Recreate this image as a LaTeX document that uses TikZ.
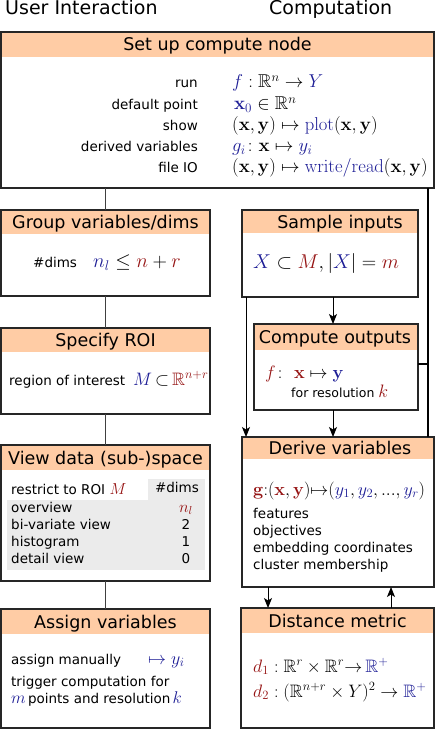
\documentclass[tikz,border=0pt]{standalone}
\usepackage{fix-cm}
\usepackage{amsmath,amssymb}
\usepackage[no-math]{fontspec}
\setmainfont{DejaVu Sans}
\usetikzlibrary{calc,arrows.meta}
\definecolor{hdrc}{RGB}{255,204,165}
\definecolor{mb}{RGB}{30,30,150}
\definecolor{mr}{RGB}{150,20,20}
\definecolor{tg}{RGB}{235,235,235}
\newcommand{\panel}[8]{%
  \node[hdr,minimum width=#4pt,minimum height=#6pt] (#1h) at (#2,#3) {};
  \node[htxt] (#1t) at ($(#1h.center)+(#8,6.5)$) {#7};
  \node[box,minimum width=#4pt,minimum height=#5pt] (#1) at (#2,#3) {};
}
\newcommand{\mysz}[2]{{\fontsize{#1}{#1}\selectfont$#2$}}
\begin{document}
\begin{tikzpicture}[x=1pt,y=-1pt,
  box/.style={draw=black!85,line width=1.2pt,anchor=north west,inner sep=0,outer sep=0},
  hdr/.style={fill=hdrc,anchor=north west,inner sep=0,outer sep=0},
  htxt/.style={anchor=base,inner sep=0,font=\fontsize{17.5}{20}\selectfont},
  ttl/.style={anchor=base west,inner sep=0,font=\fontsize{19}{22}\selectfont},
  lb/.style={inner sep=0,font=\fontsize{13.5}{16}\selectfont},
  sm/.style={inner sep=0,font=\fontsize{12.5}{15}\selectfont},
  mth/.style={inner sep=0,font=\fontsize{18}{21}\selectfont},
  mthl/.style={inner sep=0,font=\fontsize{18.6}{21}\selectfont},
  mthb/.style={inner sep=0,font=\fontsize{20}{23}\selectfont},
  mths/.style={inner sep=0,font=\fontsize{16.5}{19}\selectfont},
  conn/.style={draw=black!75,line width=1.2pt},
  arr/.style={draw=black,line width=1pt,-{Stealth[length=10pt,width=8pt,inset=2.5pt]}}
]
\useasboundingbox (0,0) rectangle (436,730);
\fill[white] (0,0) rectangle (436,730);

\node[ttl] (t1) at (5,15) {User Interaction};
\node[ttl] (t2) at (269,15) {Computation};

\panel{setup}{1}{32}{433}{156}{25}{Set up compute node}{0}
\panel{group}{1}{210}{209}{86}{24}{Group variables/dims}{0}
\panel{roi}{1}{328}{209}{86}{24}{Specify ROI}{0}
\panel{view}{1}{445}{209}{136}{25}{View data (sub-)space}{0}
\panel{assign}{1}{609}{209}{119}{25}{Assign variables}{0}
\panel{sample}{242}{210}{176}{87}{23}{Sample inputs}{10}
\panel{compute}{254}{324}{164}{86}{26}{Compute outputs}{-1}
\panel{derive}{242}{437}{192}{150}{22}{Derive variables}{2}
\panel{dist}{241}{608}{193}{120}{25}{Distance metric}{0}

% setup contents
\node[lb,anchor=base east] (s1l) at (198,88) {run};
\node[mthl,anchor=base west] (s1m) at (232,88) {${\color{mb}f}:\mathbb{R}^n\to{\color{mb}Y}$};
\node[lb,anchor=base east] (s2l) at (198,110) {default point};
\node[mthl,anchor=base west] (s2m) at (234,110) {${\color{mb}\mathbf{x}_0}\in\mathbb{R}^n$};
\node[lb,anchor=base east] (s3l) at (198,131) {show};
\node[mthl,anchor=base west] (s3m) at (232,131) {$(\mathbf{x},\mathbf{y})\mapsto{\color{mb}\mathrm{plot}}(\mathbf{x},\mathbf{y})$};
\node[lb,anchor=base east] (s4l) at (198,152) {derived variables};
\node[mthl,anchor=base west] (s4m) at (232,152) {${\color{mb}g_i}\colon\mathbf{x}\mapsto{\color{mb}y_i}$};
\node[lb,anchor=base east] (s5l) at (198,173) {file IO};
\node[mthl,anchor=base west] (s5m) at (232,173) {$(\mathbf{x},\mathbf{y})\mapsto{\color{mb}\mathrm{write/read}}(\mathbf{x},\mathbf{y})$};

% group
\node[lb,anchor=base west] (g1) at (33,267) {\#dims};
\node[mthb,anchor=base west] (g2) at (93,267) {${\color{mb}n_l}\le{\color{mr}n}+{\color{mr}r}$};

% roi
\node[lb,anchor=base west] (r1) at (9,385) {region of interest};
\node[mth,anchor=base west] (r2) at (133,385) {${\color{mb}M}\,{\subset}\,{\color{mr}\mathbb{R}^{n+r}}$};

% view
\fill[tg] (7,500) rectangle (205,570);
\fill[tg] (148,479) rectangle (205,500);
\node[lb,anchor=base west] (v0) at (11,494) {restrict to ROI \mysz{16}{\color{mr}M}};
\node[lb,anchor=base] (v0d) at (177,492) {\#dims};
\node[lb,anchor=base west] (v1) at (11,512) {overview};
\node[mths,anchor=base] (v1d) at (186,512) {${\color{mr}n_l}$};
\node[lb,anchor=base west] (v2) at (11,529) {bi-variate view};
\node[lb,anchor=base] (v2d) at (186,529) {2};
\node[lb,anchor=base west] (v3) at (11,546) {histogram};
\node[lb,anchor=base] (v3d) at (186,546) {1};
\node[lb,anchor=base west] (v4) at (11,563) {detail view};
\node[lb,anchor=base] (v4d) at (186,563) {0};

% assign
\node[lb,anchor=base west] (a1) at (11,664) {assign manually};
\node[mth,anchor=base west] (a1m) at (148,664) {${\color{mb}\mapsto y_i}$};
\node[lb,anchor=base west] (a2) at (11,686) {trigger computation for};
\node[lb,anchor=base west] (a3) at (11,703) {\mysz{17}{\color{mb}m}\,points and resolution\,\mysz{17}{\color{mb}k}};

% sample
\node[mthb,anchor=base west] (sa1) at (253,268) {${\color{mb}X}\subset{\color{mr}M},|{\color{mb}X}|={\color{mr}m}$};

% compute
\node[mth,anchor=base west] (c1) at (265,378) {${\color{mr}f}\colon\ {\color{mr}\mathbf{x}}\mapsto{\color{mb}\mathbf{y}}$};
\node[sm,anchor=base west] (c2) at (291,397) {for resolution \mysz{18}{\color{mr}k}};

% derive
\node[mth,anchor=base west] (d0) at (253,495) {${\color{mr}\mathbf{g}}{:}({\color{mr}\mathbf{x}},{\color{mr}\mathbf{y}}){\mapsto}({\color{mb}y_1},{\color{mb}y_2},...,{\color{mb}y_r})$};
\node[lb,anchor=base west] (d1) at (253,518) {features};
\node[lb,anchor=base west] (d2) at (253,535) {objectives};
\node[lb,anchor=base west] (d3) at (253,552) {embedding coordinates};
\node[lb,anchor=base west] (d4) at (253,569) {cluster membership};

% distance
\node[mth,anchor=base west] (m1) at (253,672) {${\color{mr}d_1}:\mathbb{R}^r\times\mathbb{R}^r{\to}\,{\color{mb}\mathbb{R}^+}$};
\node[mth,anchor=base west] (m2) at (253,697) {${\color{mr}d_2}:(\mathbb{R}^{n+r}\times Y)^2\to{\color{mb}\mathbb{R}^+}$};

% connectors left column
\draw[conn] (group.north) -- (group.north |- setup.south);
\draw[conn] (roi.north) -- (roi.north |- group.south);
\draw[conn] (view.north) -- (view.north |- roi.south);
\draw[conn] (assign.north) -- (assign.north |- view.south);

% right column
\coordinate (rb) at ($(derive.north east)+(-6,0)$);
\draw[conn,draw=black] (rb) -- (rb |- setup.south);
\coordinate (ce) at ($(compute.east)+(0,-3)$);
\draw[conn,draw=black] (ce) -- (ce -| rb);
\coordinate (sl) at ($(sample.south west)+(4,0)$);
\draw[arr] (sl) -- (sl |- derive.north);
\coordinate (mx) at (333,0);
\draw[arr] (sample.south -| mx) -- (compute.north -| mx);
\draw[arr] (compute.south -| mx) -- (derive.north -| mx);
\coordinate (dx1) at (268,0);
\coordinate (dx2) at (391,0);
\draw[arr] (derive.south -| dx1) -- (dist.north -| dx1);
\draw[arr] (dist.north -| dx2) -- (derive.south -| dx2);
\end{tikzpicture}
\end{document}
